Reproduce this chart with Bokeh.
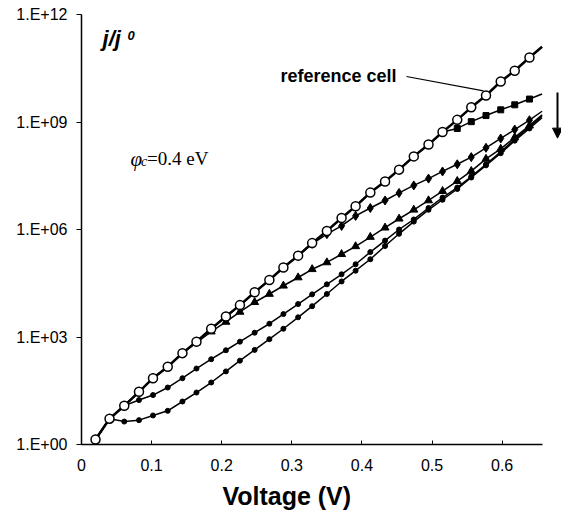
from bokeh.plotting import figure
from bokeh.models import Range1d, FixedTicker, CustomJSTickFormatter, Label, Arrow, NormalHead
from bokeh.embed import file_html
from bokeh.resources import INLINE

# ---------------- data ----------------
voltage = [0.020, 0.040, 0.061, 0.082, 0.102, 0.123, 0.144, 0.164, 0.185, 0.206,
           0.226, 0.247, 0.268, 0.288, 0.309, 0.329, 0.350, 0.371, 0.391, 0.412,
           0.433, 0.453, 0.474, 0.495, 0.515, 0.536, 0.556, 0.577, 0.598, 0.618,
           0.639, 0.657]

# log10(j/j0) of each curve
log_reference = [0.14, 0.72, 1.08, 1.47, 1.85, 2.17, 2.55, 2.87, 3.23, 3.57,
                 3.89, 4.25, 4.59, 4.94, 5.27, 5.62, 5.96, 6.32, 6.65, 7.03,
                 7.34, 7.67, 8.04, 8.37, 8.72, 9.06, 9.41, 9.74, 10.13, 10.43,
                 10.80, 11.10]
log_squares = [0.14, 0.72, 1.08, 1.47, 1.85, 2.17, 2.55, 2.87, 3.23, 3.57,
               3.89, 4.25, 4.59, 4.94, 5.27, 5.62, 5.96, 6.32, 6.65, 7.03,
               7.34, 7.67, 8.04, 8.37, 8.72, 8.82, 9.01, 9.18, 9.34, 9.48,
               9.64, 9.78]
log_diamonds = [0.14, 0.72, 1.08, 1.47, 1.85, 2.17, 2.55, 2.87, 3.23, 3.57,
                3.89, 4.25, 4.59, 4.94, 5.27, 5.60, 5.87, 6.10, 6.38, 6.60,
                6.81, 7.02, 7.23, 7.42, 7.62, 7.82, 8.02, 8.28, 8.54, 8.79,
                9.05, 9.30]
log_triangles = [0.14, 0.72, 1.08, 1.47, 1.85, 2.17, 2.55, 2.84, 3.15, 3.42,
                 3.70, 3.97, 4.20, 4.43, 4.66, 4.89, 5.08, 5.31, 5.53, 5.79,
                 6.05, 6.30, 6.55, 6.81, 7.07, 7.35, 7.63, 7.97, 8.25, 8.57,
                 8.90, 9.20]
log_dots_a = [0.14, 0.72, 1.08, 1.24, 1.38, 1.59, 1.85, 2.12, 2.38, 2.63,
              2.87, 3.12, 3.37, 3.64, 3.92, 4.19, 4.47, 4.75, 5.03, 5.37,
              5.69, 6.00, 6.28, 6.60, 6.89, 7.17, 7.48, 7.82, 8.17, 8.52,
              8.86, 9.16]
log_dots_b = [0.14, 0.72, 0.64, 0.68, 0.81, 0.94, 1.20, 1.45, 1.73, 2.04,
              2.34, 2.64, 2.94, 3.23, 3.55, 3.86, 4.20, 4.55, 4.85, 5.17,
              5.54, 5.88, 6.22, 6.55, 6.83, 7.13, 7.45, 7.79, 8.13, 8.48,
              8.82, 9.12]

x_ticks = [0, 0.1, 0.2, 0.3, 0.4, 0.5, 0.6]
y_ticks = [1e0, 1e3, 1e6, 1e9, 1e12]
x_axis_end = 0.657

# ---------------- figure ----------------
FONT = "Liberation Sans"
SERIF = "Liberation Serif"

# the frame runs past the end of the x axis so that the arrow on the right fits
p = figure(frame_width=480, frame_height=430,
           x_range=Range1d(0, 0.6847), y_range=Range1d(1, 1e12),
           y_axis_type="log", output_backend="svg", toolbar_location=None,
           min_border_left=81, min_border_right=0, min_border_top=14,
           min_border_bottom=69)
p.outline_line_color = None
p.grid.visible = False
p.background_fill_color = "white"
p.border_fill_color = "white"

xa = p.xaxis[0]
xa.bounds = (0, x_axis_end)
xa.ticker = FixedTicker(ticks=x_ticks)
xa.formatter = CustomJSTickFormatter(code='return tick == 0 ? "0" : tick.toFixed(1);')
xa.major_tick_in = 4
xa.major_tick_out = 0
xa.minor_tick_line_color = None
xa.axis_line_width = 1.5
xa.axis_line_color = "black"
xa.major_tick_line_color = "black"
xa.major_label_text_font = FONT
xa.major_label_text_font_size = "16px"
xa.major_label_text_color = "black"
xa.major_label_standoff = 14
# trailing no-break spaces shift the centred title to the left, as in the original
xa.axis_label = "Voltage (V)" + "\u00a0" * 10
xa.axis_label_text_font = FONT
xa.axis_label_text_font_style = "bold"
xa.axis_label_text_font_size = "25px"
xa.axis_label_text_color = "black"
xa.axis_label_standoff = 8

ya = p.yaxis[0]
ya.ticker = FixedTicker(ticks=y_ticks)
ya.formatter = CustomJSTickFormatter(code='const e = Math.round(Math.log10(tick)); return "1.E+" + (e < 10 ? "0" : "") + e;')
ya.major_tick_in = 0
ya.major_tick_out = 5
ya.minor_tick_line_color = None
ya.axis_line_width = 1.5
ya.axis_line_color = "black"
ya.major_tick_line_color = "black"
ya.major_label_text_font = FONT
ya.major_label_text_font_size = "16px"
ya.major_label_text_color = "black"
ya.major_label_standoff = 9

def vals(logs):
    return [10 ** v for v in logs]

series = [
    (log_dots_b, "circle", 5, "black", 1.5),
    (log_dots_a, "circle", 5, "black", 1.5),
    (log_triangles, "triangle", 8, "black", 1.5),
    (log_diamonds, "diamond", 9, "black", 1.5),
    (log_squares, "square", 6, "black", 1.5),
]
for logs, marker, size, fill, lw in series:
    y = vals(logs)
    p.line(voltage, y, line_color="black", line_width=lw)
    p.scatter(voltage[:-1], y[:-1], marker=marker, size=size,
              fill_color=fill, line_color="black", line_width=1)

yref = vals(log_reference)
p.line(voltage, yref, line_color="black", line_width=2.5)
p.scatter(voltage[:-1], yref[:-1], marker="circle", size=9,
          fill_color="white", line_color="black", line_width=1.5)

# ---------------- annotations ----------------
p.add_layout(Label(x=0.3666, y=10 ** 10.29, text="reference cell",
                   text_font=FONT, text_font_style="bold", text_font_size="18px",
                   text_align="center", text_baseline="middle", text_color="black"))
p.segment(x0=[0.4636], y0=[10 ** 10.27], x1=[0.5735], y1=[10 ** 9.87],
          line_color="black", line_width=1.2)

p.add_layout(Label(x=0.030, y=10 ** 11.33, text="j/j", text_font=FONT,
                   text_font_style="bold italic", text_font_size="22px",
                   text_baseline="alphabetic", text_color="black"))
p.add_layout(Label(x=0.0656, y=10 ** 11.41, text="0", text_font=FONT,
                   text_font_style="bold italic", text_font_size="13px",
                   text_baseline="alphabetic", text_color="black"))

p.add_layout(Label(x=0.070, y=10 ** 7.97, text="\u03c6", text_font=SERIF,
                   text_font_style="italic", text_font_size="21px",
                   text_baseline="alphabetic", text_color="black"))
p.add_layout(Label(x=0.085, y=10 ** 7.89, text="c", text_font=SERIF,
                   text_font_style="italic", text_font_size="14px",
                   text_baseline="alphabetic", text_color="black"))
p.add_layout(Label(x=0.0935, y=10 ** 7.97, text="=0.4 eV", text_font=SERIF,
                   text_font_size="19px", text_baseline="alphabetic",
                   text_color="black"))

p.add_layout(Arrow(x_start=0.679, y_start=10 ** 9.82, x_end=0.679, y_end=10 ** 8.55,
                   line_width=2, line_color="black",
                   end=NormalHead(size=10, fill_color="black", line_color="black")))

open("out.html", "w").write(file_html(p, INLINE))
